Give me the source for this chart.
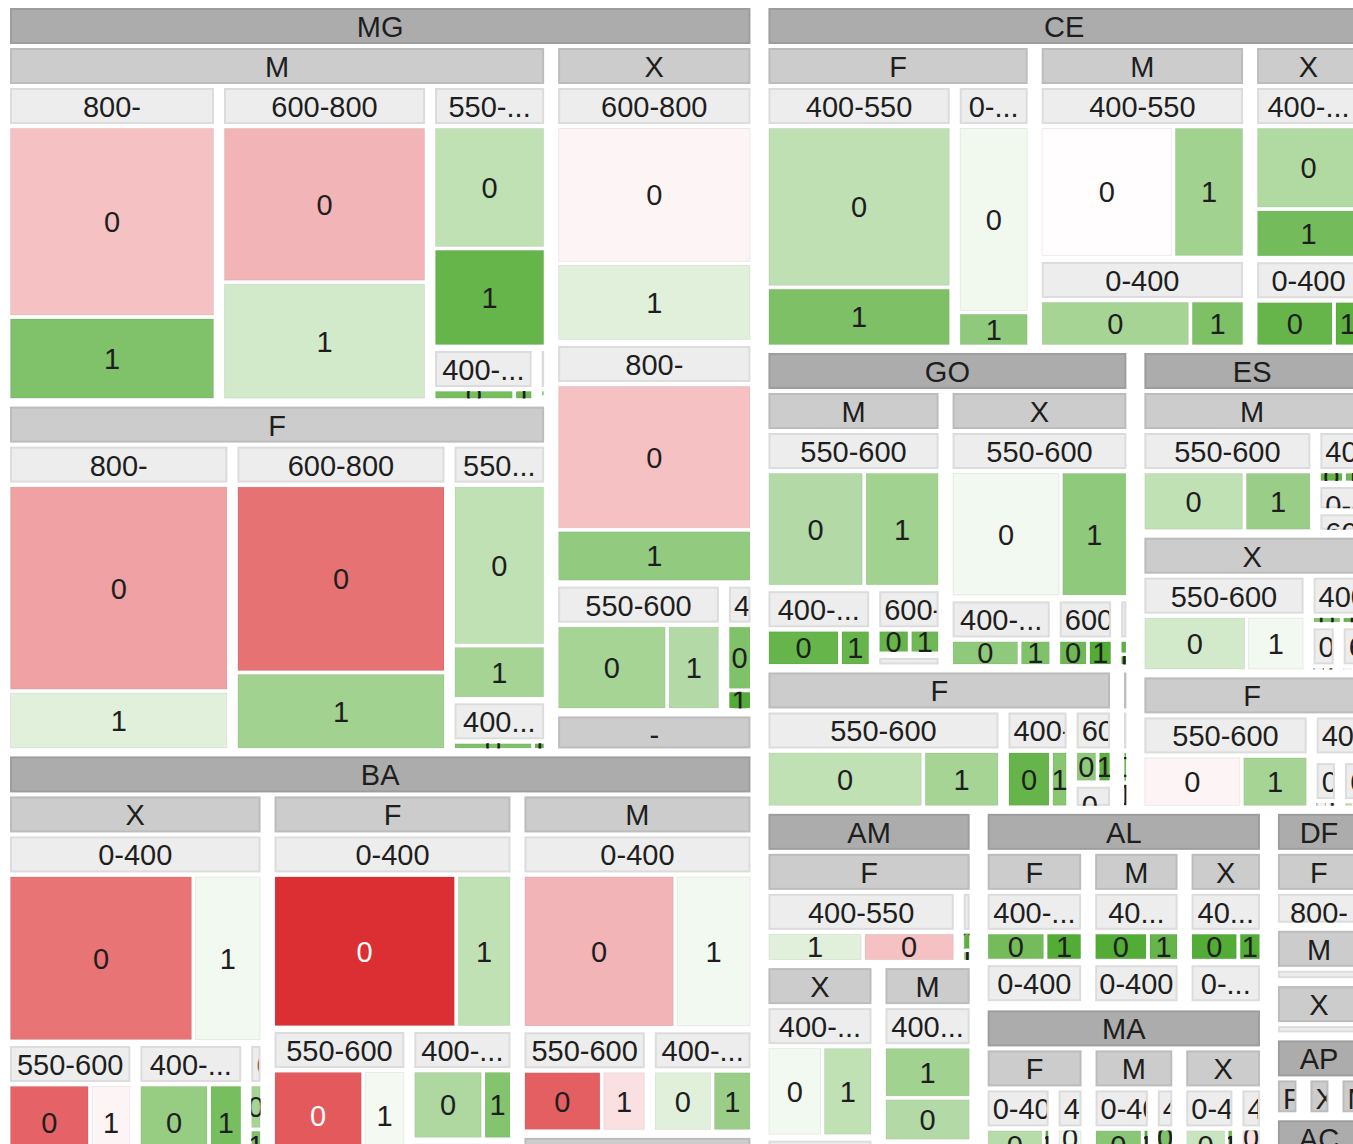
<!DOCTYPE html>
<html>
<head>
<meta charset="utf-8">
<script src="https://cdn.jsdelivr.net/npm/d3@7"></script>
<style>
  body { margin: 0; background: #fff; overflow: hidden; }
  svg { display: block; font-family: "Liberation Sans", Arial, sans-serif; }
</style>
</head>
<body>
<div id="app"></div>
<script>
// each row: [sex, income band, target, count, score]
// score drives the colour: -1 red .. 0 white .. 1 green
const MG = [
  ['M', '800-', '0', 2904, -0.30], ['M', '800-', '1', 1268, 0.70],
  ['M', '600-800', '0', 2341, -0.36], ['M', '600-800', '1', 1773, 0.25],
  ['M', '550-600', '0', 1033, 0.35], ['M', '550-600', '1', 831, 0.85],
  ['M', '400-550', '0', 285, 0.75], ['M', '400-550', '1', 67, 0.80],
  ['M', '0-400', '0', 20, 0.60], ['M', '0-400', '1', 8, 0.80],
  ['F', '800-', '0', 3365, -0.45], ['F', '800-', '1', 960, 0.17],
  ['F', '600-800', '0', 2921, -0.68], ['F', '600-800', '1', 1207, 0.52],
  ['F', '550-600', '0', 1139, 0.35], ['F', '550-600', '1', 378, 0.50],
  ['F', '400-550', '0', 261, 0.70], ['F', '400-550', '1', 41, 0.85],
  ['X', '600-800', '0', 1881, -0.05], ['X', '600-800', '1', 1072, 0.17],
  ['X', '800-', '0', 2026, -0.30], ['X', '800-', '1', 730, 0.60],
  ['X', '550-600', '0', 850, 0.50], ['X', '550-600', '1', 410, 0.42],
  ['X', '400-550', '0', 156, 0.70], ['X', '400-550', '1', 47, 0.95],
  ['-', '800-', '0', 250, -0.20], ['-', '800-', '1', 179, 0.30]
];

const BA = [
  ['X', '0-400', '0', 2560, -0.67], ['X', '0-400', '1', 950, 0.07],
  ['X', '550-600', '0', 676, -0.75], ['X', '550-600', '1', 346, -0.05],
  ['X', '400-550', '0', 587, 0.58], ['X', '400-550', '1', 282, 0.75],
  ['X', '600-800', '0', 70, 0.50], ['X', '600-800', '1', 50, 0.70],
  ['F', '0-400', '0', 2374, -1.00], ['F', '0-400', '1', 721, 0.35],
  ['F', '550-600', '0', 832, -0.80], ['F', '550-600', '1', 393, 0.06],
  ['F', '400-550', '0', 530, 0.45], ['F', '400-550', '1', 217, 0.68],
  ['F', '600-800', '0', 90, 0.30], ['F', '600-800', '1', 58, 0.60],
  ['M', '0-400', '0', 1952, -0.36], ['M', '0-400', '1', 983, 0.07],
  ['M', '550-600', '0', 558, -0.77], ['M', '550-600', '1', 314, -0.15],
  ['M', '400-550', '0', 408, 0.17], ['M', '400-550', '1', 272, 0.56],
  ['-', '0-400', '0', 236, -0.30], ['-', '0-400', '1', 160, 0.40]
];

const CE = [
  ['F', '400-550', '0', 2487, 0.36], ['F', '400-550', '1', 915, 0.72],
  ['F', '0-400', '0', 1111, 0.08], ['F', '0-400', '1', 204, 0.62],
  ['M', '400-550', '0', 1603, -0.01], ['M', '400-550', '1', 856, 0.52],
  ['M', '0-400', '0', 925, 0.50], ['M', '0-400', '1', 334, 0.72],
  ['X', '400-550', '0', 798, 0.43], ['X', '400-550', '1', 471, 0.77],
  ['X', '0-400', '0', 478, 0.85], ['X', '0-400', '1', 168, 0.90]
];

const GO = [
  ['M', '550-600', '0', 1084, 0.42], ['M', '550-600', '1', 846, 0.52],
  ['M', '400-550', '0', 428, 0.85], ['M', '400-550', '1', 180, 0.85],
  ['M', '600-800', '0', 155, 0.85], ['M', '600-800', '1', 147, 0.80],
  ['M', '0-400', '0', 31, 0.40], ['M', '0-400', '1', 26, 0.60],
  ['X', '550-600', '0', 1259, 0.07], ['X', '550-600', '1', 769, 0.62],
  ['X', '400-550', '0', 339, 0.62], ['X', '400-550', '1', 157, 0.70],
  ['X', '600-800', '0', 155, 0.80], ['X', '600-800', '1', 129, 0.95],
  ['X', '0-400', '0', 29, 0.90], ['X', '0-400', '1', 23, 0.90],
  ['F', '550-600', '0', 1311, 0.35], ['F', '550-600', '1', 643, 0.50],
  ['F', '400-550', '0', 399, 0.85], ['F', '400-550', '1', 156, 0.66],
  ['F', '600-800', '0', 148, 0.62], ['F', '600-800', '1', 92, 0.90],
  ['F', '0-400', '0', 46, 0.30], ['F', '0-400', '1', 35, 0.50],
  ['-', '550-600', '0', 46, 0.90], ['-', '550-600', '1', 36, 0.90]
];

const ES = [
  ['M', '550-600', '0', 846, 0.35], ['M', '550-600', '1', 562, 0.56],
  ['M', '400-550', '0', 113, 0.85], ['M', '400-550', '1', 79, 0.80],
  ['M', '0-400', '0', 60, 0.05], ['M', '0-400', '1', 37, 0.30],
  ['M', '600-800', '0', 44, 0.40], ['M', '600-800', '1', 32, 0.60],
  ['X', '550-600', '0', 836, 0.25], ['X', '550-600', '1', 471, 0.07],
  ['X', '400-550', '0', 126, 0.70], ['X', '400-550', '1', 84, 0.85],
  ['X', '0-400', '0', 64, 0.10], ['X', '0-400', '1', 48, 0.30],
  ['X', '600-800', '0', 48, 0.40], ['X', '600-800', '1', 35, 0.60],
  ['F', '550-600', '0', 778, -0.05], ['F', '550-600', '1', 522, 0.50],
  ['F', '400-550', '0', 104, 0.70], ['F', '400-550', '1', 76, 0.50],
  ['F', '0-400', '0', 63, 0.05], ['F', '0-400', '1', 47, 0.30],
  ['F', '600-800', '0', 47, 0.40], ['F', '600-800', '1', 35, 0.60]
];

const AM = [
  ['F', '400-550', '1', 680, 0.17], ['F', '400-550', '0', 652, -0.30],
  ['F', '0-400', '0', 50, 0.90], ['F', '0-400', '1', 31, 0.60],
  ['X', '400-550', '0', 608, 0.07], ['X', '400-550', '1', 553, 0.35],
  ['X', '0-400', '0', 130, 0.30], ['X', '0-400', '1', 92, 0.50],
  ['M', '400-550', '1', 514, 0.52], ['M', '400-550', '0', 435, 0.42],
  ['M', '0-400', '0', 80, 0.30], ['M', '0-400', '1', 60, 0.50]
];

const AL = [
  ['F', '400-550', '0', 419, 0.77], ['F', '400-550', '1', 263, 0.95],
  ['F', '0-400', '0', 240, 0.45], ['F', '0-400', '1', 173, 0.70],
  ['M', '400-550', '0', 389, 0.95], ['M', '400-550', '1', 223, 0.85],
  ['M', '0-400', '0', 215, 0.45], ['M', '0-400', '1', 155, 0.70],
  ['X', '400-550', '0', 328, 0.95], ['X', '400-550', '1', 157, 0.95],
  ['X', '0-400', '0', 170, 0.40], ['X', '0-400', '1', 123, 0.60]
];

const MA = [
  ['F', '0-400', '0', 563, 0.40], ['F', '0-400', '1', 63, 0.90],
  ['F', '400-550', '0', 150, 0.10], ['F', '400-550', '1', 105, 0.50],
  ['M', '0-400', '0', 491, 0.65], ['M', '0-400', '1', 67, 0.95],
  ['M', '400-550', '0', 100, 0.70], ['M', '400-550', '1', 83, 0.90],
  ['X', '0-400', '0', 400, 0.30], ['X', '0-400', '1', 70, 0.80],
  ['X', '400-550', '0', 110, -0.15], ['X', '400-550', '1', 87, 0.80]
];

const DF = [
  ['F', '800-', '0', 250, 0.30], ['F', '800-', '1', 171, 0.60],
  ['M', '800-', '0', 180, 0.30], ['M', '800-', '1', 123, 0.60],
  ['X', '800-', '0', 177, 0.30], ['X', '800-', '1', 120, 0.60]
];

const AP = [
  ['F', '800-', '0', 75, 0.30], ['F', '800-', '1', 55, 0.60],
  ['X', '800-', '0', 74, 0.30], ['X', '800-', '1', 54, 0.60],
  ['M', '800-', '0', 60, 0.30], ['M', '800-', '1', 42, 0.60]
];

const AC = [
  ['F', '800-', '0', 70, 0.30], ['F', '800-', '1', 50, 0.60],
  ['M', '800-', '0', 55, 0.30], ['M', '800-', '1', 40, 0.60]
];

const states = ['MG', 'BA', 'CE', 'GO', 'ES', 'AM', 'AL', 'MA', 'DF', 'AP', 'AC'];
const stateRows = [MG, BA, CE, GO, ES, AM, AL, MA, DF, AP, AC];

const width = 1353;
const height = 1144;
const fontSize = 29;

function nest(rows) {
  const bySex = d3.group(rows, (r) => r[0], (r) => r[1]);
  return Array.from(bySex, ([sex, incomes]) => ({
    name: sex,
    children: Array.from(incomes, ([inc, leaves]) => ({
      name: inc,
      children: leaves.map((r) => ({ name: r[2], value: r[3], score: r[4] })),
    })),
  }));
}

const tree = {
  name: 'root',
  children: states.map((s, i) => ({ name: s, children: nest(stateRows[i]) })),
};

// gaps between siblings, by parent depth
const gapV = [8, 8, 6, 3];
const gapH = [10, 6, 4, 0];

function tile(node, x0, y0, x1, y1) {
  d3.treemapSquarify.ratio(1)(node, x0, y0, x1, y1);
  const extra = gapH[node.depth];
  if (extra) {
    node.children.forEach((c) => {
      if (c.x1 < x1 - 1) c.x1 -= extra;
    });
  }
}

const root = d3
  .hierarchy(tree)
  .sum((d) => d.value || 0)
  .sort((a, b) => b.value - a.value);

d3.treemap()
  .size([1350, 1152])
  .tile(tile)
  .paddingInner((d) => gapV[d.depth])
  .paddingTop((d) => (d.depth ? 40 : 0))(root);

const color = d3
  .scaleLinear()
  .domain([-1, 0, 1])
  .range(['#dc2f33', '#ffffff', '#4aa82a']);

const headerFill = ['none', '#acacac', '#cccccc', '#ededed'];
const headerStroke = ['none', '#9d9d9d', '#bcbcbc', '#dcdcdc'];

const svg = d3
  .select('#app')
  .append('svg')
  .attr('width', width)
  .attr('height', height);

const measure = svg
  .append('text')
  .attr('font-size', fontSize)
  .attr('visibility', 'hidden');

function textWidth(s) {
  measure.text(s);
  return measure.node().getComputedTextLength();
}

// full label centred if it fits, else "abc..." centred, else clipped
function fitLabel(name, w) {
  if (textWidth(name) <= w - 6) return { text: name, center: true };
  if (w >= 62) {
    for (let k = name.length - 1; k >= 1; k--) {
      const t = name.slice(0, k) + '...';
      if (textWidth(t) <= w - 11) return { text: t, center: true };
    }
  }
  return { text: name, center: false };
}

const defs = svg.append('defs');
const wrapper = svg.append('g').attr('transform', 'translate(10,8)');

let clipId = 0;
function clipRect(x, y, w, h) {
  const id = 'clip' + clipId++;
  defs
    .append('clipPath')
    .attr('id', id)
    .append('rect')
    .attr('x', x)
    .attr('y', y)
    .attr('width', Math.max(0, w))
    .attr('height', Math.max(0, h));
  return 'url(#' + id + ')';
}

root.descendants().forEach((d) => {
  if (d.depth === 0) return;
  const w = d.x1 - d.x0;
  const h = d.y1 - d.y0;
  if (w <= 0 || h <= 0) return;

  if (d.children) {
    // group header bar
    const hh = Math.min(36, h);
    wrapper
      .append('rect')
      .attr('x', d.x0 + 1)
      .attr('y', d.y0 + 1)
      .attr('width', Math.max(0, w - 2))
      .attr('height', Math.max(0, hh - 2))
      .attr('fill', headerFill[d.depth])
      .attr('stroke', headerStroke[d.depth])
      .attr('stroke-width', 2);

    const lab = fitLabel(d.data.name, w);
    wrapper
      .append('text')
      .attr('clip-path', clipRect(d.x0, d.y0, w - 2, hh))
      .attr('x', lab.center ? (d.x0 + d.x1) / 2 : d.x0 + 5)
      .attr('y', d.y0 + 29)
      .attr('text-anchor', lab.center ? 'middle' : 'start')
      .attr('font-size', fontSize)
      .attr('fill', '#1e1e1e')
      .text(lab.text);
  } else {
    wrapper
      .append('rect')
      .attr('x', d.x0 + 0.5)
      .attr('y', d.y0 + 0.5)
      .attr('width', Math.max(0, w - 1))
      .attr('height', Math.max(0, h - 1))
      .attr('fill', color(d.data.score))
      .attr('stroke', '#000')
      .attr('stroke-opacity', 0.07);

    wrapper
      .append('text')
      .attr('clip-path', clipRect(d.x0, d.y0, w, h))
      .attr('x', (d.x0 + d.x1) / 2)
      .attr('y', (d.y0 + d.y1) / 2)
      .attr('dy', '0.36em')
      .attr('text-anchor', 'middle')
      .attr('font-size', fontSize)
      .attr('fill', d.data.score < -0.78 ? '#fff' : '#1e1e1e')
      .text(d.data.name);
  }
});

measure.remove();
</script>
</body>
</html>
